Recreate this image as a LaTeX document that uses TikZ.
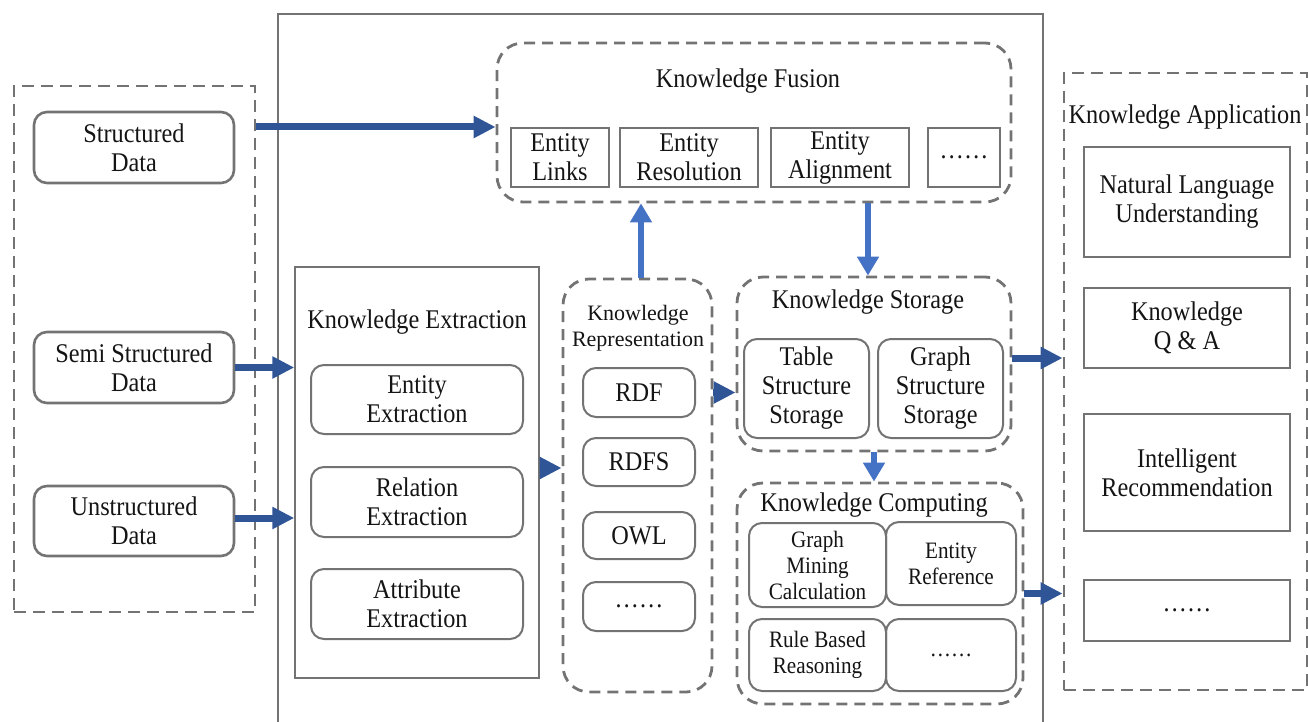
\documentclass[tikz,border=0pt]{standalone}
\usepackage{fontspec}
\setmainfont{Liberation Serif}[FakeStretch=0.9]
\newfontfamily\plainserif{Liberation Serif}
\usetikzlibrary{arrows.meta}
\definecolor{lc}{HTML}{737373}
\definecolor{dblue}{HTML}{2F5597}
\definecolor{lblue}{HTML}{4472C4}
\definecolor{tc}{HTML}{141414}
\begin{document}
\begin{tikzpicture}[x=1pt,y=-1pt,
  every node/.style={inner sep=0pt, align=center, text=tc, font=\fontsize{27}{29}\selectfont},
  dbox/.style={draw=lc, line width=2.8pt, dash pattern=on 11pt off 7pt, rounded corners=26pt},
  sqdash/.style={draw=lc, line width=2.8pt, dash pattern=on 12pt off 7pt},
  rbox/.style={draw=lc, line width=2pt, rounded corners=13pt},
  sbox/.style={draw=lc, line width=1.5pt},
  smallfont/.style={font=\fontsize{23.5}{26}\selectfont},
  darr/.style={draw=dblue, line width=7pt, -{Triangle[length=22pt,width=21pt]}},
  larr/.style={draw=lblue, line width=6.5pt, -{Triangle[length=19pt,width=21pt]}},
  ]
\useasboundingbox (0,0) rectangle (1308,722);
\clip (0,0) rectangle (1308,722);

% main frame
\node[draw=lc, line width=2.8pt, minimum width=765pt, minimum height=730pt] (core) at (660.5,379) {};

% sources
\node[sqdash, minimum width=241pt, minimum height=526pt] (src) at (134.5,349) {};
\node[rbox, line width=2.6pt, minimum width=200pt, minimum height=71pt] (sd) at (134,147.5) {Structured\\Data};
\node[rbox, line width=2.6pt, minimum width=200pt, minimum height=71pt] (ssd) at (134,367.5) {Semi Structured\\Data};
\node[rbox, line width=2.6pt, minimum width=200pt, minimum height=70pt] (ud) at (134,521) {Unstructured\\Data};

% knowledge extraction
\node[sbox, minimum width=244pt, minimum height=411pt] (ke) at (417,472.5) {};
\node (ketitle) at (417,322) {Knowledge Extraction};
\node[rbox, minimum width=212pt, minimum height=69pt] (ee) at (417,399.5) {Entity\\Extraction};
\node[rbox, minimum width=212pt, minimum height=70pt] (re) at (417,502) {Relation\\Extraction};
\node[rbox, minimum width=212pt, minimum height=70pt] (ae) at (417,604) {Attribute\\Extraction};

% knowledge representation
\node[dbox, minimum width=149pt, minimum height=413pt] (kr) at (637.5,485.5) {};
\node[font=\plainserif\fontsize{22}{26}\selectfont] (krtitle) at (638,328) {Knowledge\\Representation};
\node[rbox, minimum width=112pt, minimum height=49pt] (rdf) at (639,392.5) {RDF};
\node[rbox, minimum width=112pt, minimum height=48pt] (rdfs) at (639,462) {RDFS};
\node[rbox, minimum width=112pt, minimum height=47pt] (owl) at (639,535.5) {OWL};
\node[rbox, minimum width=112pt, minimum height=49pt] (krd) at (639,606.5) {……};

% knowledge fusion
\node[dbox, minimum width=514pt, minimum height=159pt] (kf) at (754,122.5) {};
\node (kftitle) at (748,81) {Knowledge Fusion};
\node[sbox, minimum width=98pt, minimum height=59pt] (el) at (560,157.5) {Entity\\Links};
\node[sbox, minimum width=138pt, minimum height=59pt] (er) at (689,157.5) {Entity\\Resolution};
\node[sbox, minimum width=138pt, minimum height=59pt] (ea) at (840,157.5) {Entity\\Alignment};
\node[sbox, minimum width=72pt, minimum height=59pt] (kfd) at (964,157.5) {……};

% knowledge storage
\node[dbox, minimum width=274pt, minimum height=174pt] (ks) at (874,364) {};
\node (kstitle) at (868,302) {Knowledge Storage};
\node[rbox, minimum width=125pt, minimum height=99pt] (tss) at (806.5,388.5) {Table\\Structure\\Storage};
\node[rbox, minimum width=125pt, minimum height=99pt] (gss) at (940.5,388.5) {Graph\\Structure\\Storage};

% knowledge computing
\node[dbox, minimum width=286pt, minimum height=221pt] (kc) at (880,593.5) {};
\node (kctitle) at (874,505) {Knowledge Computing};
\node[rbox, smallfont, minimum width=137pt, minimum height=84pt] (gmc) at (817.5,565) {Graph\\Mining\\Calculation};
\node[rbox, smallfont, minimum width=130pt, minimum height=83pt] (eref) at (951,563.5) {Entity\\Reference};
\node[rbox, smallfont, minimum width=137pt, minimum height=72pt] (rbr) at (817.5,655) {Rule Based\\Reasoning};
\node[rbox, smallfont, minimum width=130pt, minimum height=72pt] (kcd) at (951,655) {……};

% knowledge application
\node[sqdash, minimum width=243pt, minimum height=617pt] (ka) at (1185.5,381.5) {};
\node (katitle) at (1185,117) {Knowledge Application};
\node[sbox, minimum width=206pt, minimum height=110pt] (nlu) at (1187,202) {Natural Language\\Understanding};
\node[sbox, minimum width=206pt, minimum height=80pt] (qa) at (1187,328) {Knowledge\\Q \& A};
\node[sbox, minimum width=206pt, minimum height=117pt] (ir) at (1187,472.5) {Intelligent\\Recommendation};
\node[sbox, minimum width=206pt, minimum height=61pt] (kad) at (1187,610.5) {……};

% arrows
\draw[darr] ([yshift=20.5pt]sd.east -| src.east) -- ([yshift=20.5pt]sd.east -| kf.west);
\draw[darr] (ssd.east) -- (ssd.east -| ke.west);
\draw[darr] ([yshift=3pt]ud.east) -- ([yshift=3pt]ud.east -| ke.west);
\draw[darr] ([yshift=4.5pt]ke.east) -- ([yshift=4.5pt]ke.east -| kr.west);
\draw[larr] ([xshift=3.5pt]kr.north) -- ([xshift=3.5pt]kr.north |- kf.south);
\draw[larr] ([xshift=-6pt]ks.north |- kf.south) -- ([xshift=-6pt]ks.north);
\draw[darr] (kr.east |- rdf.center) -- (ks.west |- rdf.center);
\draw[darr] ([yshift=6pt]ks.east) -- ([yshift=6pt]ks.east -| ka.west);
\draw[larr] (ks.south) -- (ks.south |- kc.north);
\draw[darr] (kc.east) -- (kc.east -| ka.west);
\end{tikzpicture}
\end{document}
